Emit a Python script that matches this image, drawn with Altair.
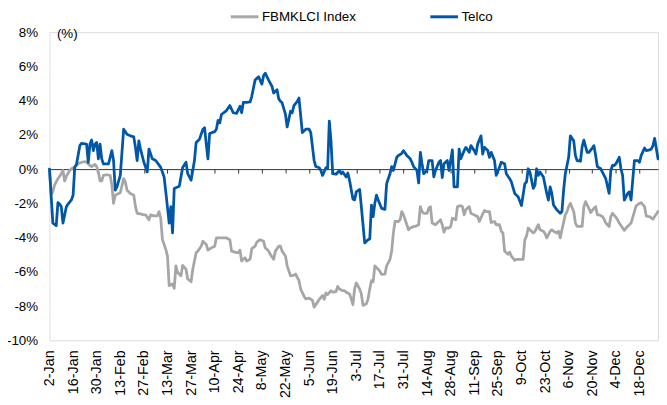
import altair as alt
import pandas as pd

# ---- data (day-of-year 2017, % change) ----
kl_day = [2, 3, 4, 5, 7, 9, 10, 11, 12, 14, 15, 17, 18, 19, 21, 23, 24, 26, 27, 29,
          30, 31, 32, 33, 34, 36, 38, 39, 40, 41, 43, 44, 46, 47, 48, 50, 52, 53, 54, 56,
          58, 59, 61, 62, 64, 66, 67, 68, 69, 71, 72, 73, 75, 76, 77, 78, 80, 81, 83, 84,
          86, 87, 89, 90, 92, 93, 95, 96, 98, 100, 101, 104, 107, 109, 110, 113, 114, 115, 116, 118,
          119, 121, 122, 124, 125, 127, 129, 130, 132, 133, 135, 136, 138, 139, 140, 142, 143, 145, 147, 148,
          150, 151, 153, 154, 156, 158, 159, 161, 162, 164, 165, 166, 167, 169, 170, 172, 173, 174, 176, 177,
          178, 180, 181, 182, 183, 184, 186, 187, 188, 190, 191, 192, 193, 194, 195, 196, 198, 199, 201, 202,
          204, 205, 206, 207, 209, 210, 211, 212, 214, 215, 216, 218, 219, 221, 222, 223, 224, 226, 227, 228,
          229, 231, 232, 234, 235, 236, 237, 239, 240, 241, 243, 244, 246, 247, 248, 249, 251, 252, 253, 255,
          256, 257, 259, 260, 261, 263, 264, 266, 267, 269, 270, 271, 272, 274, 275, 276, 278, 279, 281, 283,
          284, 285, 286, 287, 289, 290, 292, 293, 295, 296, 297, 299, 300, 301, 303, 304, 305, 306, 308, 309,
          310, 311, 313, 314, 315, 317, 318, 319, 320, 322, 323, 325, 326, 327, 328, 330, 331, 332, 334, 335,
          336, 338, 339, 340, 342, 343, 344, 346, 347, 349, 350, 352, 353, 355, 356, 357, 358, 360, 362, 363]
kl_val = [0.0, -1.5, -1.3, -0.94, -0.56, -0.27, -0.08, -0.69, -0.42, -0.08, 0.02, 0.12, 0.21, 0.31, 0.4, 0.44, 0.4, 0.21, 0.15, 0.27,
          0.15, -0.17, -0.69, -0.69, -0.37, -0.33, -0.37, -0.94, -2.0, -1.52, -1.42, -1.38, -0.56, -0.75, -1.23, -1.42, -1.52, -2.19, -2.58, -2.62,
          -2.67, -2.67, -2.96, -2.67, -2.73, -2.73, -2.48, -2.87, -4.12, -4.69, -5.08, -6.81, -6.71, -6.96, -5.65, -6.04, -6.23, -5.62, -5.85, -6.42,
          -6.58, -5.85, -4.88, -4.79, -4.5, -4.21, -4.4, -4.73, -4.6, -4.5, -4.02, -4.02, -4.02, -4.12, -4.79, -4.88, -4.88, -4.73, -5.37, -5.17,
          -5.37, -5.27, -4.65, -4.5, -4.27, -4.12, -4.21, -4.6, -4.79, -4.98, -5.27, -4.79, -4.5, -4.5, -4.79, -5.08, -5.65, -6.23, -6.19, -6.13,
          -6.52, -7.0, -7.42, -7.58, -7.54, -7.67, -8.06, -7.77, -7.62, -7.38, -7.6, -7.23, -7.33, -7.1, -7.19, -7.15, -6.85, -7.0, -7.1, -7.1,
          -7.19, -7.29, -7.58, -7.92, -7.0, -6.65, -7.0, -7.29, -7.96, -7.87, -7.58, -7.0, -6.52, -6.58, -5.65, -5.75, -5.96, -6.15, -6.13, -5.65,
          -5.27, -4.79, -3.73, -3.06, -3.06, -2.96, -2.48, -2.67, -3.25, -3.54, -3.44, -3.35, -3.35, -3.25, -2.19, -2.48, -2.58, -2.58, -2.29, -2.19,
          -3.15, -3.25, -3.15, -2.96, -3.25, -3.69, -3.44, -3.44, -3.35, -2.87, -2.96, -2.19, -2.13, -2.19, -2.67, -2.38, -2.19, -2.58, -2.63, -2.73,
          -2.77, -3.06, -2.62, -2.42, -2.48, -2.48, -3.12, -3.06, -3.25, -3.25, -3.63, -3.73, -4.79, -4.98, -4.85, -5.08, -5.33, -5.27, -5.27, -5.27,
          -4.12, -3.92, -3.44, -3.54, -3.73, -3.63, -3.25, -3.54, -3.63, -3.77, -4.02, -3.63, -3.54, -3.63, -3.73, -3.63, -4.02, -3.54, -2.67, -2.48,
          -2.19, -2.0, -2.48, -3.15, -3.35, -3.35, -3.35, -2.19, -1.9, -2.29, -2.54, -2.29, -2.19, -2.67, -2.67, -2.77, -2.92, -3.15, -3.35, -2.77,
          -2.58, -2.81, -2.96, -3.15, -3.44, -3.58, -3.44, -3.25, -3.15, -2.48, -2.15, -2.0, -1.96, -2.19, -2.73, -2.77, -2.77, -2.92, -2.62, -2.48]

tel_day = [2, 4, 6, 7, 8, 9, 10, 12, 13, 15, 16, 17, 18, 20, 21, 24, 25, 26, 27, 28,
           29, 30, 31, 32, 33, 34, 37, 39, 40, 41, 42, 44, 46, 48, 50, 52, 53, 54, 55, 56,
           58, 60, 61, 63, 65, 68, 70, 71, 73, 74, 75, 76, 79, 81, 83, 84, 86, 88, 89, 91,
           93, 94, 95, 96, 97, 100, 101, 102, 103, 104, 107, 109, 111, 113, 115, 116, 117, 119, 121, 122,
           124, 126, 128, 129, 130, 132, 134, 135, 137, 138, 139, 140, 142, 143, 145, 146, 147, 149, 150, 152,
           154, 156, 157, 159, 160, 162, 163, 164, 166, 167, 168, 169, 170, 172, 174, 175, 176, 178, 179, 180,
           182, 183, 184, 186, 187, 189, 191, 192, 193, 194, 195, 196, 197, 199, 201, 202, 204, 205, 206, 208,
           209, 211, 212, 214, 216, 217, 218, 220, 221, 222, 223, 224, 226, 227, 229, 230, 231, 233, 234, 235,
           236, 238, 239, 240, 241, 242, 244, 245, 246, 248, 249, 251, 252, 254, 255, 256, 258, 259, 260, 262,
           263, 264, 266, 267, 269, 270, 272, 273, 274, 275, 276, 278, 279, 280, 282, 284, 285, 286, 287, 289,
           290, 291, 292, 293, 295, 296, 297, 298, 299, 300, 301, 303, 305, 306, 307, 308, 310, 311, 313, 314,
           315, 317, 318, 319, 321, 322, 324, 325, 326, 327, 329, 330, 331, 332, 334, 335, 336, 337, 338, 340,
           341, 342, 343, 344, 345, 346, 347, 348, 349, 351, 352, 353, 355, 356, 358, 359, 360, 361, 362, 363]
tel_val = [0.0, -3.15, -3.3, -1.96, -2.04, -2.2, -3.15, -2.2, -2.04, -1.8, -1.52, 0.12, 0.27, 1.37, 1.5, 1.46, 0.4, 1.46, 1.7, 1.08,
           1.46, 1.56, 0.6, 1.46, 0.6, 0.3, 0.3, 1.08, 0.5, -1.23, -1.04, -0.37, 2.33, 2.04, 1.94, 1.88, 1.27, 0.5, 1.65, 1.17,
           0.4, -0.17, 1.17, 0.6, 0.5, 0.1, -0.46, -1.33, -3.15, -2.19, -3.73, -1.13, -1.0, 0.1, 0.4, -0.27, -0.65, 0.5, 1.56, 1.75,
           2.33, 2.42, 1.46, 0.6, 2.08, 2.19, 2.33, 2.85, 2.7, 3.19, 3.42, 3.71, 3.29, 3.25, 3.67, 3.29, 3.9, 3.9, 3.92, 4.25,
           5.21, 5.4, 4.96, 5.46, 5.6, 5.2, 4.83, 4.44, 4.63, 4.1, 3.96, 3.87, 3.19, 2.46, 3.38, 3.29, 3.71, 3.96, 4.15, 2.13,
           2.33, 2.33, 2.13, 0.5, 0.15, 0.08, -0.08, -0.37, 0.08, 0.02, 2.8, 1.65, -0.27, -0.3, -0.08, -0.27, -0.17, -0.46, -0.23, -0.65,
           -1.75, -1.8, -1.33, -1.19, -2.19, -4.31, -4.12, -4.08, -2.1, -2.77, -2.0, -1.52, -1.81, -2.29, -2.35, -0.85, -0.27, 0.15, -0.08, 0.69,
           0.79, 0.92, 1.08, 0.79, 0.6, 0.4, 0.15, -0.08, -0.81, 0.98, 0.31, -0.27, -0.08, 0.5, 0.5, -0.46, -0.08, 0.4, 0.5, -0.5,
           0.31, 0.5, -0.08, 0.5, 1.12, -1.04, -1.04, 1.17, 0.6, 1.08, 1.27, 0.98, 1.37, 1.08, 0.88, 1.46, 1.94, 0.88, 1.27, 1.08,
           0.69, 0.98, 0.5, -0.37, 0.12, 0.4, 0.31, -0.27, -0.42, -0.56, -0.75, -1.42, -1.52, -1.62, -2.13, -0.85, -0.75, 0.02, -0.17, -1.13,
           -0.94, 0.02, -0.37, -0.17, -0.46, -0.94, -1.42, -1.81, -1.04, -1.42, -2.1, -2.38, -2.58, -2.48, -1.23, -0.27, 0.69, 1.94, 1.65, 0.79,
           0.5, 0.46, 1.31, 1.69, 0.98, 0.98, 1.23, 1.37, 0.79, 0.15, 0.02, -0.17, -0.37, -0.56, -1.42, -0.08, 0.21, 0.21, 0.31, 0.69,
           0.02, -0.37, -1.81, -1.62, -1.42, -1.33, -1.81, -0.65, 0.5, 0.5, 0.4, 0.79, 1.23, 1.08, 1.12, 1.17, 1.37, 1.8, 1.2, 0.6]

series_names = ["FBMKLCI Index", "Telco"]
series_colors = ["#A6A6A6", "#0057A8"]

x_label_dates = [(1, 2), (1, 16), (1, 30), (2, 13), (2, 27), (3, 13), (3, 27), (4, 10), (4, 24),
                 (5, 8), (5, 22), (6, 5), (6, 19), (7, 3), (7, 17), (7, 31), (8, 14), (8, 28),
                 (9, 11), (9, 25), (10, 9), (10, 23), (11, 6), (11, 20), (12, 4), (12, 18)]
x_domain = [(1, 2), (12, 29)]
y_ticks = [-10, -8, -6, -4, -2, 0, 2, 4, 6, 8]
y_domain = [-10, 8]


def to_dates(days):
    base = pd.Timestamp("2017-01-01")
    return [(base + pd.Timedelta(days=d - 1)).strftime("%Y-%m-%dT00:00:00") for d in days]


df = pd.concat([
    pd.DataFrame({"date": to_dates(kl_day), "value": kl_val, "series": series_names[0]}),
    pd.DataFrame({"date": to_dates(tel_day), "value": tel_val, "series": series_names[1]}),
], ignore_index=True)

FONT = "Liberation Sans"
PLOT_H = 312

x_axis = alt.Axis(
    values=[alt.DateTime(year=2017, month=m, date=d) for m, d in x_label_dates],
    format="%-d-%b",
    labelAngle=-90,
    offset=-PLOT_H * 10 / 18,
    tickSize=4,
    labelPadding=179,
    domainColor="#333333",
    tickColor="#333333",
    grid=False,
    title=None,
    labelOverlap=False,
    labelFlush=False,
    labelBound=False,
    labelFontSize=14.5,
    labelColor="#000000",
    labelFont=FONT,
)

y_axis = alt.Axis(
    values=y_ticks,
    labelExpr="datum.value + '%'",
    domain=False,
    ticks=False,
    grid=False,
    labelPadding=12,
    labelFontSize=13.5,
    labelColor="#000000",
    labelFont=FONT,
    title="(%)",
    titleAngle=0,
    titleAlign="left",
    titleBaseline="middle",
    titleX=7,
    titleY=1,
    titleFontWeight="normal",
    titleFontSize=13.5,
    titleColor="#000000",
    titleFont=FONT,
)

legend = alt.Legend(
    orient="none",
    legendX=182,
    legendY=-31,
    direction="horizontal",
    title=None,
    symbolType="stroke",
    symbolSize=784,
    symbolStrokeWidth=3,
    labelFontSize=13.5,
    labelFont=FONT,
    labelColor="#000000",
    labelOffset=2,
    columnPadding=68,
    padding=0,
)

chart = alt.Chart(df).mark_line(strokeWidth=2.8, strokeJoin="round", strokeCap="round").encode(
    x=alt.X("date:T",
            scale=alt.Scale(domain=[alt.DateTime(year=2017, month=m, date=d) for m, d in x_domain], nice=False),
            axis=x_axis),
    y=alt.Y("value:Q", scale=alt.Scale(domain=y_domain, nice=False, zero=False), axis=y_axis),
    color=alt.Color("series:N",
                    scale=alt.Scale(domain=series_names, range=series_colors),
                    legend=legend),
).properties(
    width=616,
    height=PLOT_H,
    autosize=alt.AutoSizeParams(type="none"),
    padding={"left": 42, "top": 22, "right": 1, "bottom": 59},
).configure_view(stroke=None).configure(font=FONT, background="#ffffff")

chart.save("out.html", embed_options={"renderer": "svg", "actions": False})
